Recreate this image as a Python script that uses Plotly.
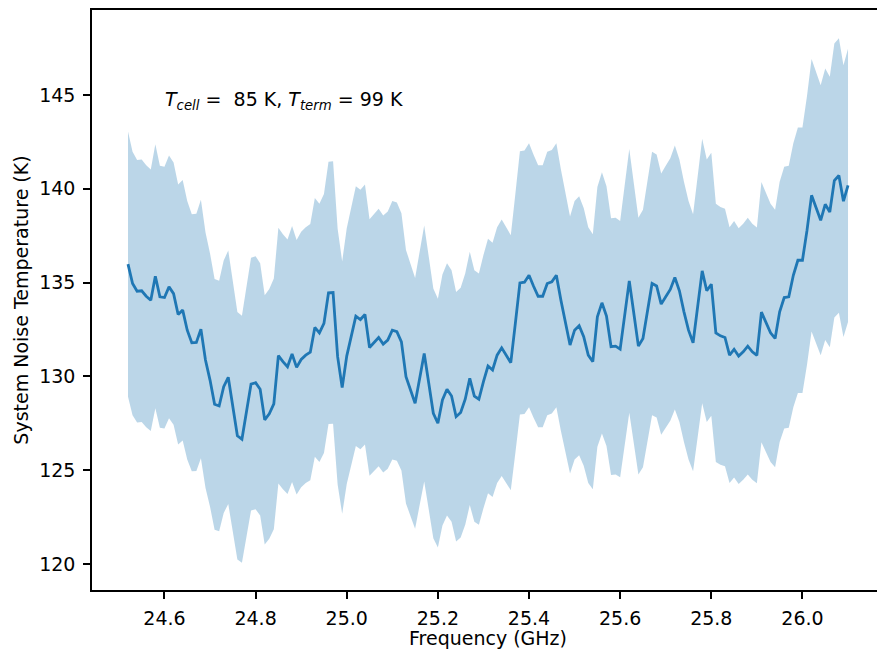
import plotly.graph_objects as go

# Frequency grid (GHz): 159 channels, 10 MHz apart
f_start = 24.52
f_step = 0.01
n_chan = 159
freq = [round(f_start + f_step * i, 4) for i in range(n_chan)]

# Measured system noise temperature (K)
t_sys = [
    135.98, 134.95, 134.54, 134.56, 134.27, 134.06, 135.34, 134.24, 134.20, 134.77,
    134.41, 133.30, 133.53, 132.46, 131.79, 131.81, 132.52, 130.87, 129.80, 128.51,
    128.42, 129.45, 129.95, 128.39, 126.83, 126.65, 128.10, 129.59, 129.66, 129.31,
    127.68, 128.00, 128.53, 131.10, 130.78, 130.51, 131.19, 130.48, 130.90, 131.13,
    131.29, 132.61, 132.32, 132.82, 134.45, 134.47, 131.05, 129.40, 131.08, 132.11,
    133.21, 133.03, 133.30, 131.54, 131.79, 132.07, 131.72, 131.93, 132.46, 132.38,
    131.84, 129.98, 129.27, 128.56, 129.89, 131.22, 129.63, 128.03, 127.50, 128.74,
    129.31, 128.95, 127.85, 128.07, 128.78, 129.89, 128.95, 128.78, 129.72, 130.55,
    130.34, 131.13, 131.52, 131.13, 130.73, 132.82, 134.98, 135.02, 135.39, 134.80,
    134.27, 134.27, 134.95, 135.04, 135.39, 134.06, 132.82, 131.67, 132.46, 132.70,
    132.11, 131.13, 130.78, 133.17, 133.92, 133.21, 131.58, 131.61, 131.45, 133.26,
    135.09, 133.35, 131.61, 132.02, 133.53, 134.95, 134.82, 133.85, 134.24, 134.63,
    135.27, 134.56, 133.44, 132.46, 131.79, 133.71, 135.62, 134.56, 134.91, 132.32,
    132.16, 132.07, 131.13, 131.44, 131.08, 131.31, 131.61, 131.31, 131.12, 133.42,
    132.91, 132.32, 132.02, 133.44, 134.20, 134.24, 135.39, 136.19, 136.19, 137.78,
    139.65, 139.02, 138.32, 139.17, 138.76, 140.44, 140.71, 139.34, 140.18,
]

# Relative 1-sigma uncertainty on the noise temperature
rel_unc = 0.052
t_hi = [t * (1 + rel_unc) for t in t_sys]
t_lo = [t * (1 - rel_unc) for t in t_sys]

y_ticks = [120, 125, 130, 135, 140, 145]
x_ticks = [24.6, 24.8, 25.0, 25.2, 25.4, 25.6, 25.8, 26.0, 26.2]

BLUE = "#1f77b4"
FONT = "DejaVu Sans"
TEXT_FONT = dict(family=FONT, size=19, color="black")

fig = go.Figure()
fig.add_trace(go.Scatter(
    x=freq, y=t_lo, mode="lines", line=dict(width=0, color=BLUE),
    hoverinfo="skip", showlegend=False,
))
fig.add_trace(go.Scatter(
    x=freq, y=t_hi, mode="lines", line=dict(width=0, color=BLUE),
    fill="tonexty", fillcolor="rgba(31,119,180,0.3)",
    hoverinfo="skip", showlegend=False,
))
fig.add_trace(go.Scatter(
    x=freq, y=t_sys, mode="lines", line=dict(width=2.8, color=BLUE),
    showlegend=False,
))

# Measurement conditions
fig.add_annotation(
    x=24.597, y=144.68, xref="x", yref="y",
    xanchor="left", yanchor="middle", showarrow=False,
    text="<i>T</i><sub><i>cell</i></sub> = &nbsp;85 K, <i>T</i><sub><i>term</i></sub> = 99 K",
    font=TEXT_FONT,
)

# x-axis label
fig.add_annotation(
    x=0.5045, y=-0.082, xref="paper", yref="paper",
    xanchor="center", yanchor="middle", showarrow=False,
    text="Frequency (GHz)", font=TEXT_FONT,
)

axis_common = dict(
    showgrid=False, zeroline=False,
    showline=True, linecolor="black", linewidth=1.5,
    ticks="outside", ticklen=7, tickwidth=1.5, tickcolor="black",
    tickfont=TEXT_FONT,
)

fig.update_xaxes(
    **axis_common,
    range=[24.441, 26.1636],
    tickvals=x_ticks, ticktext=[f"{v:.1f}" for v in x_ticks],
    mirror=True,
    ticklabelstandoff=3,
)
fig.update_yaxes(
    **axis_common,
    range=[118.61, 149.53],
    tickvals=y_ticks, ticktext=[str(v) for v in y_ticks],
    ticklabelstandoff=4,
    title=dict(text="System Noise Temperature (K)", font=TEXT_FONT, standoff=6),
)

fig.update_layout(
    width=877, height=653,
    margin=dict(l=92, r=0, t=10, b=63),
    plot_bgcolor="white", paper_bgcolor="white",
    font=dict(family=FONT),
)

fig.write_html("out.html")
